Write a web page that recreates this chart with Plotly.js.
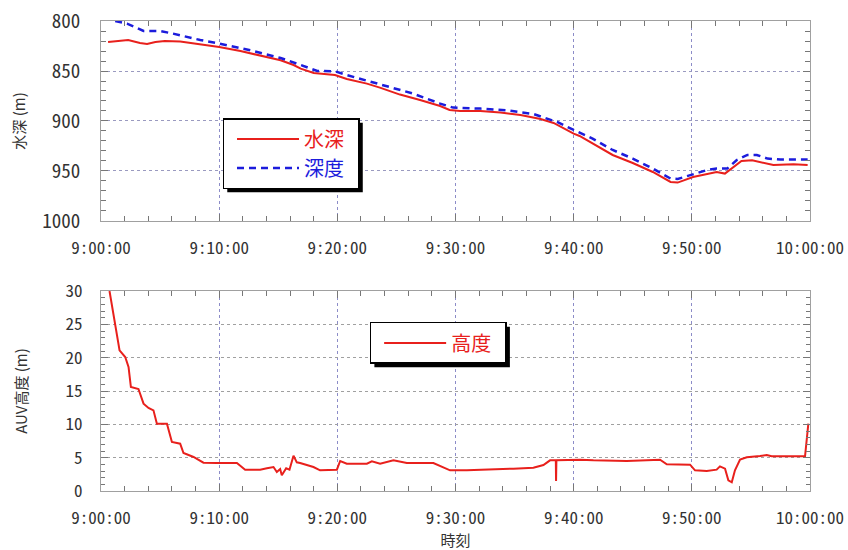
<!DOCTYPE html>
<html><head><meta charset="utf-8">
<script src="https://cdn.plot.ly/plotly-3.0.1.min.js"></script>
<style>body{margin:0;background:#fff}</style>
</head><body><div id="chart" style="width:848px;height:550px"></div>
<script>
// minutes after 9:00:00
const tickMinutes = [0,10,20,30,40,50,60];
const tickLabels = ['9:00:00','9:10:00','9:20:00','9:30:00','9:40:00','9:50:00','10:00:00'];

const waterDepthTime = [0.6,1.6,2.3,3.3,3.9,4.6,5.4,6.7,8.4,10.0,11.8,13.3,14.6,15.2,16.3,16.9,18.0,18.8,19.8,20.8,22.5,23.6,25.3,27.0,28.7,29.5,30.4,32.1,33.8,35.5,37.2,38.3,39.4,40.0,40.5,41.6,43.3,45.0,46.7,48.2,48.8,50.1,51.3,52.1,52.8,53.5,54.2,55.1,56.0,56.9,58.6,59.8];
const waterDepth = [821,819.5,819,822,823,821,820,820.5,823,826,830,834,838,839.3,844,847.6,852,853,854,858,862.6,866.6,873.6,879,885,889,890,890,891.6,894,898,902,909,912.6,915,922.6,934,942,951,961,961.6,956,952.6,951,952.6,946,940,939.3,942,944,943.3,944];

const depthTime = [1.2,2.2,3.6,5.0,6.1,8.4,10.0,12.9,15.2,16.3,16.9,18.3,19.8,20.8,23.6,26.4,28.7,29.8,32.1,34.4,36.6,38.6,40.0,41.6,43.3,45.0,46.7,48.2,48.8,50.1,51.3,52.1,53.0,53.8,54.7,55.5,56.4,57.5,59.8];
const depth = [800,802.6,810,810,812.6,819,822.6,830,837,842,844,850,850.3,854,863,872.6,882.6,886.6,887.6,889.3,893,901,909,917.6,929,937.6,947.6,957.6,958,953,949,947.6,947.6,939,934,934,937.6,938.6,938.6];

const altTime = [0.72,1.57,2.05,2.33,2.53,3.17,3.6,4.02,4.44,4.73,5.58,6.0,6.7,6.98,7.83,8.67,9.81,11.5,12.2,13.47,14.04,14.6,14.88,15.16,15.3,15.67,15.95,16.29,16.57,16.85,17.98,18.54,19.96,20.24,20.8,22.5,22.92,23.62,24.75,25.31,25.88,28.13,28.98,29.54,30.96,33.21,34.9,36.59,37.44,38.0,38.49,38.51,38.54,40.54,41.67,44.49,47.31,47.88,49.85,50.27,51.26,52.1,52.38,52.81,53.09,53.38,53.65,54.08,54.65,55.77,56.34,56.76,59.58,59.86];
const altitude = [30,21.1,20.1,18.6,15.6,15.3,13.1,12.45,12.1,10.1,10.1,7.35,7.1,5.7,5.1,4.25,4.2,4.2,3.2,3.2,3.4,3.6,2.85,3.3,2.35,3.4,3.2,5.3,4.3,4.2,3.6,3.1,3.2,4.5,4.1,4.1,4.45,4.1,4.6,4.35,4.2,4.2,3.6,3.1,3.1,3.2,3.35,3.5,3.9,4.6,4.6,1.5,4.6,4.7,4.6,4.5,4.7,4.0,3.95,3.1,3.0,3.2,3.7,3.35,1.6,1.3,3.1,4.7,5.05,5.25,5.4,5.2,5.2,10.1];

const RED = '#e8201c', BLUE = '#1c1cdc';
const monoFont = '"Noto Sans Mono CJK JP", "DejaVu Sans Mono", monospace';
const cjkFont = '"Noto Sans CJK JP", sans-serif';
const pad = '&nbsp;&nbsp;';

const traces = [
  {x: waterDepthTime, y: waterDepth, mode: 'lines', name: '<span style="color:'+RED+'">水深</span>' + pad,
   line: {color: RED, width: 2}, xaxis: 'x', yaxis: 'y', legend: 'legend'},
  {x: depthTime, y: depth, mode: 'lines', name: '<span style="color:'+BLUE+'">深度</span>' + pad,
   line: {color: BLUE, width: 2.5, dash: '7px,5px'}, xaxis: 'x', yaxis: 'y', legend: 'legend'},
  {x: altTime, y: altitude, mode: 'lines', name: '<span style="color:'+RED+'">高度</span>' + pad,
   line: {color: RED, width: 2}, xaxis: 'x2', yaxis: 'y2', legend: 'legend2'}
];

function xAxis(anchor, withTitle) {
  const a = {
    anchor: anchor, domain: [0,1], range: [0,60], tickmode: 'array', tickvals: tickMinutes, ticktext: tickLabels,
    showline: true, linecolor: '#a0a0a0', linewidth: 1, mirror: 'ticks',
    ticks: 'inside', ticklen: 7, tickcolor: '#777',
    minor: {dtick: 2, tick0: 0, ticks: 'inside', ticklen: 5, tickcolor: '#777', showgrid: false},
    showgrid: true, gridcolor: '#8c8cc8', griddash: 'dot', gridwidth: 1,
    zeroline: false, ticklabelstandoff: 12,
    tickfont: {family: monoFont, size: 17, color: '#333'}
  };
  if (withTitle) a.title = {text: '時刻', font: {family: cjkFont, size: 15, color: '#333'}, standoff: 1};
  return a;
}

const legendBase = {xanchor: 'left', yanchor: 'top', bgcolor: '#fff',
  bordercolor: '#000', borderwidth: 1.5, itemwidth: 62, indentation: 8, tracegroupgap: 0,
  font: {family: cjkFont, size: 20, color: '#333'}};

const layout = {
  width: 848, height: 550,
  margin: {l: 101, r: 38, t: 21, b: 59},
  paper_bgcolor: '#fff', plot_bgcolor: '#fff',
  xaxis: xAxis('y', false),
  yaxis: {
    domain: [0.5745, 1], range: [1000, 800], tickvals: [800,850,900,950,1000],
    showline: true, linecolor: '#a0a0a0', linewidth: 1, mirror: 'ticks',
    ticks: 'inside', ticklen: 7, tickcolor: '#777',
    minor: {dtick: 10, ticks: 'inside', ticklen: 5, tickcolor: '#777', showgrid: false},
    showgrid: true, gridcolor: '#9a9ac0', griddash: 'dot', zeroline: false,
    ticklabelstandoff: 16,
    tickfont: {family: monoFont, size: 19, color: '#333'},
    title: {text: '水深 (m)', font: {family: cjkFont, size: 15, color: '#333'}, standoff: 12}
  },
  xaxis2: xAxis('y2', true),
  yaxis2: {
    domain: [0, 0.4255], range: [0, 30], tickvals: [0,5,10,15,20,25,30],
    showline: true, linecolor: '#a0a0a0', linewidth: 1, mirror: 'ticks',
    ticks: 'inside', ticklen: 7, tickcolor: '#777',
    minor: {dtick: 1, ticks: 'inside', ticklen: 4, tickcolor: '#777', showgrid: false},
    showgrid: true, gridcolor: '#a0a0a0', griddash: '3px,3px', zeroline: false,
    ticklabelstandoff: 14,
    tickfont: {family: monoFont, size: 17, color: '#333'},
    title: {text: 'AUV高度 (m)', font: {family: cjkFont, size: 15, color: '#333'}, standoff: 34}
  },
  showlegend: true,
  legend: Object.assign({}, legendBase, {x: 0.1714, y: 0.7936}),
  legend2: Object.assign({}, legendBase, {x: 0.3789, y: 0.3596}),
  shapes: []
};

Plotly.newPlot('chart', traces, layout, {staticPlot: true, displayModeBar: false}).then(function (gd) {
  // drop shadows behind the two legend boxes, sized from the rendered legends
  const sz = gd._fullLayout._size;
  const host = gd.getBoundingClientRect();
  const shapes = [];
  ['legend', 'legend2'].forEach(function (id) {
    const bg = gd.querySelector('g.' + id + ' rect.bg');
    if (!bg) return;
    const r = bg.getBoundingClientRect();
    const off = 4;
    const px0 = r.left - host.left + off, px1 = r.right - host.left + off;
    const py0 = r.top - host.top + off, py1 = r.bottom - host.top + off;
    shapes.push({type: 'rect', xref: 'paper', yref: 'paper',
      x0: (px0 - sz.l) / sz.w, x1: (px1 - sz.l) / sz.w,
      y0: 1 - (py1 - sz.t) / sz.h, y1: 1 - (py0 - sz.t) / sz.h,
      fillcolor: '#000', line: {width: 0}, layer: 'above'});
  });
  return Plotly.relayout(gd, {shapes: shapes});
});
</script></body></html>
